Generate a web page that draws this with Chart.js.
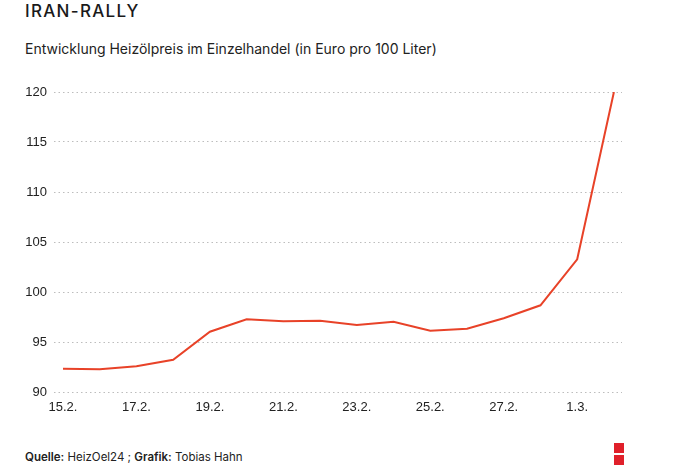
<!DOCTYPE html>
<html lang="de">
<head>
    <meta charset="UTF-8">
    <title>Iran-Rally</title>
    <script src="https://cdn.jsdelivr.net/npm/chart.js@4.4.1/dist/chart.umd.min.js"></script>
    <style>
        body {
            margin: 0;
            width: 690px;
            height: 466px;
            background: #fff;
            font-family: 'Inter', 'Roboto', sans-serif;
            color: #1a1a1a;
            position: relative;
            overflow: hidden;
        }
        .title {
            position: absolute;
            left: 25px;
            top: 1px;
            font-size: 17px;
            font-weight: 500;
            letter-spacing: 1.3px;
        }
        .subtitle {
            position: absolute;
            left: 25px;
            top: 40px;
            font-size: 14px;
            color: #222;
        }
        .chart-box {
            position: absolute;
            left: 0;
            top: 70px;
            width: 690px;
            height: 350px;
        }
        .footer {
            position: absolute;
            left: 25px;
            top: 450px;
            font-size: 11.5px;
            color: #222;
        }
        .footer b { font-weight: 600; }
        .logo {
            position: absolute;
            left: 614px;
            width: 10px;
            height: 10px;
            background: #e0202a;
        }
    </style>
</head>
<body>
    <div class="title">IRAN-RALLY</div>
    <div class="subtitle">Entwicklung Heizölpreis im Einzelhandel (in Euro pro 100 Liter)</div>
    <div class="chart-box"><canvas id="chart"></canvas></div>
    <div class="footer"><b>Quelle:</b> HeizOel24 ; <b>Grafik:</b> Tobias Hahn</div>
    <div class="logo" style="top:443px"></div>
    <div class="logo" style="top:455px"></div>

    <script>
        // Tage (Februar/März)
        const days = ['15.2.', '16.2.', '17.2.', '18.2.', '19.2.', '20.2.', '21.2.', '22.2.',
                      '23.2.', '24.2.', '25.2.', '26.2.', '27.2.', '28.2.', '1.3.', '2.3.'];
        // Heizölpreis, Euro pro 100 Liter
        const prices = [92.33, 92.27, 92.57, 93.23, 96.03, 97.27, 97.07, 97.13,
                        96.7, 97.03, 96.13, 96.33, 97.37, 98.67, 103.27, 120];
        const yTicks = [90, 95, 100, 105, 110, 115, 120];

        const points = prices.map((v, i) => ({ x: i, y: v }));

        new Chart(document.getElementById('chart'), {
            type: 'line',
            data: {
                datasets: [{
                    data: points,
                    borderColor: 'rgb(232, 66, 40)',
                    borderWidth: 2,
                    pointRadius: 0,
                    tension: 0
                }]
            },
            options: {
                responsive: true,
                maintainAspectRatio: false,
                animation: false,
                layout: { padding: { top: 22, right: 68, left: 0, bottom: 0 } },
                plugins: {
                    legend: { display: false },
                    tooltip: { enabled: false }
                },
                scales: {
                    x: {
                        type: 'linear',
                        min: -0.245,
                        max: 15.22,
                        border: { display: false },
                        grid: { display: false, drawTicks: false },
                        afterFit: s => { s.height = 28; },
                        ticks: {
                            stepSize: 2,
                            includeBounds: false,
                            autoSkip: false,
                            maxRotation: 0,
                            padding: 8,
                            color: '#222',
                            font: { family: "'Liberation Sans', Arial, sans-serif", size: 13 },
                            callback: v => days[v] || ''
                        }
                    },
                    y: {
                        min: yTicks[0],
                        max: yTicks[yTicks.length - 1],
                        border: { display: false, dash: [1.5, 3] },
                        grid: { color: '#bdbdbd', drawTicks: false, lineWidth: 1 },
                        afterFit: s => { s.width = 54; },
                        afterBuildTicks: s => { s.ticks = yTicks.map(v => ({ value: v })); },
                        ticks: {
                            padding: 7,
                            color: '#222',
                            font: { family: "'Liberation Sans', Arial, sans-serif", size: 13 }
                        }
                    }
                }
            }
        });
    </script>
</body>
</html>
